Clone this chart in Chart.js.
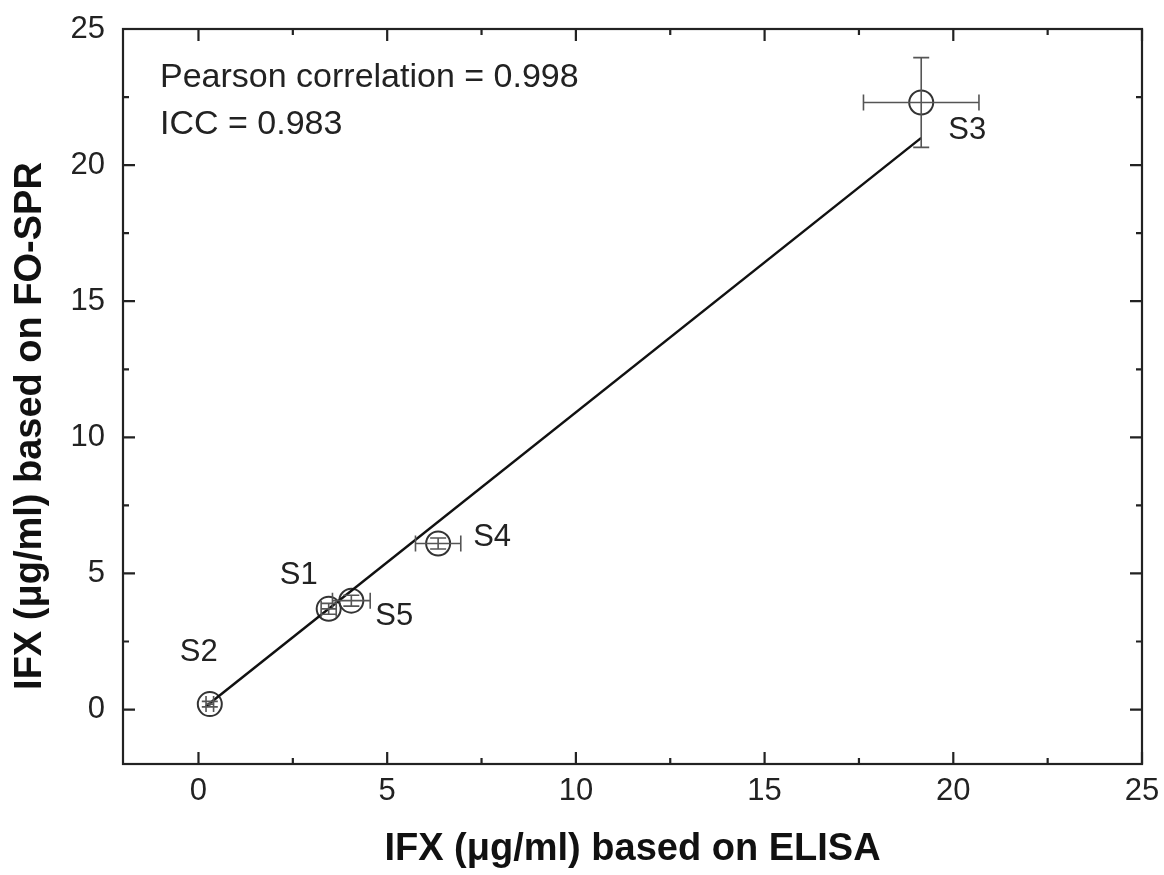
<!DOCTYPE html>
<html>
<head>
<meta charset="utf-8">
<script src="https://cdn.jsdelivr.net/npm/chart.js@4"></script>
<style>
  html, body { margin: 0; padding: 0; background: #fff; }
  #wrap { width: 1164px; height: 875px; }
</style>
</head>
<body>
<div id="wrap"><canvas id="corrChart" width="1164" height="875"></canvas></div>
<script>
// samples
const sampleNames = ["S1", "S2", "S3", "S4", "S5"];
const elisa = [3.45, 0.3, 19.15, 6.35, 4.05];
const fospr = [3.7, 0.2, 22.3, 6.1, 4.0];
const elisaErr = [0.2, 0.1, 1.53, 0.6, 0.5];
const fosprErr = [0.2, 0.1, 1.65, 0.2, 0.2];

// linear fit drawn between the extreme samples
const fitX = [0.2, 19.15];
const fitY = [0.12, 21.0];

const xTicks = [0, 5, 10, 15, 20, 25];
const yTicks = [0, 5, 10, 15, 20, 25];
const statsText = ["Pearson correlation = 0.998", "ICC = 0.983"];
const yTitle = "IFX (\u03bcg/ml) based on FO-SPR";
const xTitle = "IFX (\u03bcg/ml) based on ELISA";

const ink = "#222";
const fam = "Arial, 'Liberation Sans', Helvetica, sans-serif";

// pixel offsets of the sample labels from their circles
const labelOffsets = {
  S1: [-30, -33], S2: [-11, -52], S3: [46, 28], S4: [54, -6], S5: [43, 16]
};

const errorBars = {
  id: "errorBars",
  afterDatasetsDraw(chart) {
    const { ctx, scales: { x, y } } = chart;
    ctx.save();
    ctx.strokeStyle = "#555";
    ctx.lineWidth = 1.6;
    const cap = 8;
    elisa.forEach((v, i) => {
      const px = x.getPixelForValue(v), py = y.getPixelForValue(fospr[i]);
      const x0 = x.getPixelForValue(v - elisaErr[i]), x1 = x.getPixelForValue(v + elisaErr[i]);
      const y0 = y.getPixelForValue(fospr[i] - fosprErr[i]), y1 = y.getPixelForValue(fospr[i] + fosprErr[i]);
      ctx.beginPath();
      ctx.moveTo(x0, py); ctx.lineTo(x1, py);
      ctx.moveTo(x0, py - cap); ctx.lineTo(x0, py + cap);
      ctx.moveTo(x1, py - cap); ctx.lineTo(x1, py + cap);
      ctx.moveTo(px, y0); ctx.lineTo(px, y1);
      ctx.moveTo(px - cap, y0); ctx.lineTo(px + cap, y0);
      ctx.moveTo(px - cap, y1); ctx.lineTo(px + cap, y1);
      ctx.stroke();
    });
    ctx.restore();
  }
};

const frameAndText = {
  id: "frameAndText",
  afterDraw(chart) {
    const { ctx, chartArea: a, scales: { x, y } } = chart;
    ctx.save();
    ctx.strokeStyle = ink;
    ctx.lineWidth = 2.2;
    ctx.strokeRect(a.left, a.top, a.right - a.left, a.bottom - a.top);
    ctx.beginPath();
    for (let v = -2.5; v <= 25; v += 2.5) {
      if (v < x.min || v > x.max) continue;
      const len = v % 5 === 0 ? 12 : 6;
      const px = x.getPixelForValue(v);
      ctx.moveTo(px, a.bottom); ctx.lineTo(px, a.bottom - len);
      ctx.moveTo(px, a.top); ctx.lineTo(px, a.top + len);
    }
    for (let v = -2.5; v <= 25; v += 2.5) {
      if (v < y.min || v > y.max) continue;
      const len = v % 5 === 0 ? 12 : 6;
      const py = y.getPixelForValue(v);
      ctx.moveTo(a.left, py); ctx.lineTo(a.left + len, py);
      ctx.moveTo(a.right, py); ctx.lineTo(a.right - len, py);
    }
    ctx.stroke();

    ctx.fillStyle = ink;
    ctx.font = "34px " + fam;
    ctx.textBaseline = "middle";
    ctx.textAlign = "left";
    ctx.fillText(statsText[0], 160, 78);
    ctx.fillText(statsText[1], 160, 125);

    ctx.font = "31px " + fam;
    ctx.textAlign = "center";
    sampleNames.forEach((n, i) => {
      const off = labelOffsets[n];
      ctx.fillText(n, x.getPixelForValue(elisa[i]) + off[0], y.getPixelForValue(fospr[i]) + off[1]);
    });

    // y axis title
    ctx.translate(31, 426);
    ctx.rotate(-Math.PI / 2);
    ctx.font = "bold 38px " + fam;
    ctx.fillStyle = "#111";
    ctx.fillText(yTitle, 0, 0);
    ctx.restore();
  }
};

new Chart(document.getElementById("corrChart"), {
  type: "scatter",
  data: {
    datasets: [
      {
        label: "fit",
        type: "line",
        data: fitX.map((v, i) => ({ x: v, y: fitY[i] })),
        borderColor: "#111",
        borderWidth: 2.5,
        pointRadius: 0,
        fill: false
      },
      {
        label: "samples",
        data: elisa.map((v, i) => ({ x: v, y: fospr[i] })),
        pointStyle: "circle",
        pointRadius: 12,
        pointBorderWidth: 2,
        borderColor: "#333",
        backgroundColor: "rgba(0,0,0,0)"
      }
    ]
  },
  plugins: [errorBars, frameAndText],
  options: {
    responsive: false,
    animation: false,
    layout: { padding: { top: 29, right: 22, left: 0, bottom: 0 } },
    plugins: { legend: { display: false }, tooltip: { enabled: false } },
    scales: {
      x: {
        type: "linear",
        min: -2,
        max: 25,
        afterBuildTicks: s => { s.ticks = xTicks.map(v => ({ value: v })); },
        afterFit: s => { s.height = 111; s.paddingLeft = 0; s.paddingRight = 0; },
        grid: { display: false, drawTicks: false },
        border: { display: false },
        ticks: { color: ink, font: { size: 31, family: fam }, padding: 9 },
        title: {
          display: true,
          text: xTitle,
          color: "#111",
          font: { size: 38, weight: "bold", family: fam },
          padding: { top: 4, bottom: 3 }
        }
      },
      y: {
        type: "linear",
        min: -2,
        max: 25,
        afterBuildTicks: s => { s.ticks = yTicks.map(v => ({ value: v })); },
        afterFit: s => { s.width = 123; s.paddingTop = 0; s.paddingBottom = 0; },
        grid: { display: false, drawTicks: false },
        border: { display: false },
        ticks: { color: ink, font: { size: 31, family: fam }, padding: 18 },
        title: { display: false }
      }
    }
  }
});
</script>
</body>
</html>
